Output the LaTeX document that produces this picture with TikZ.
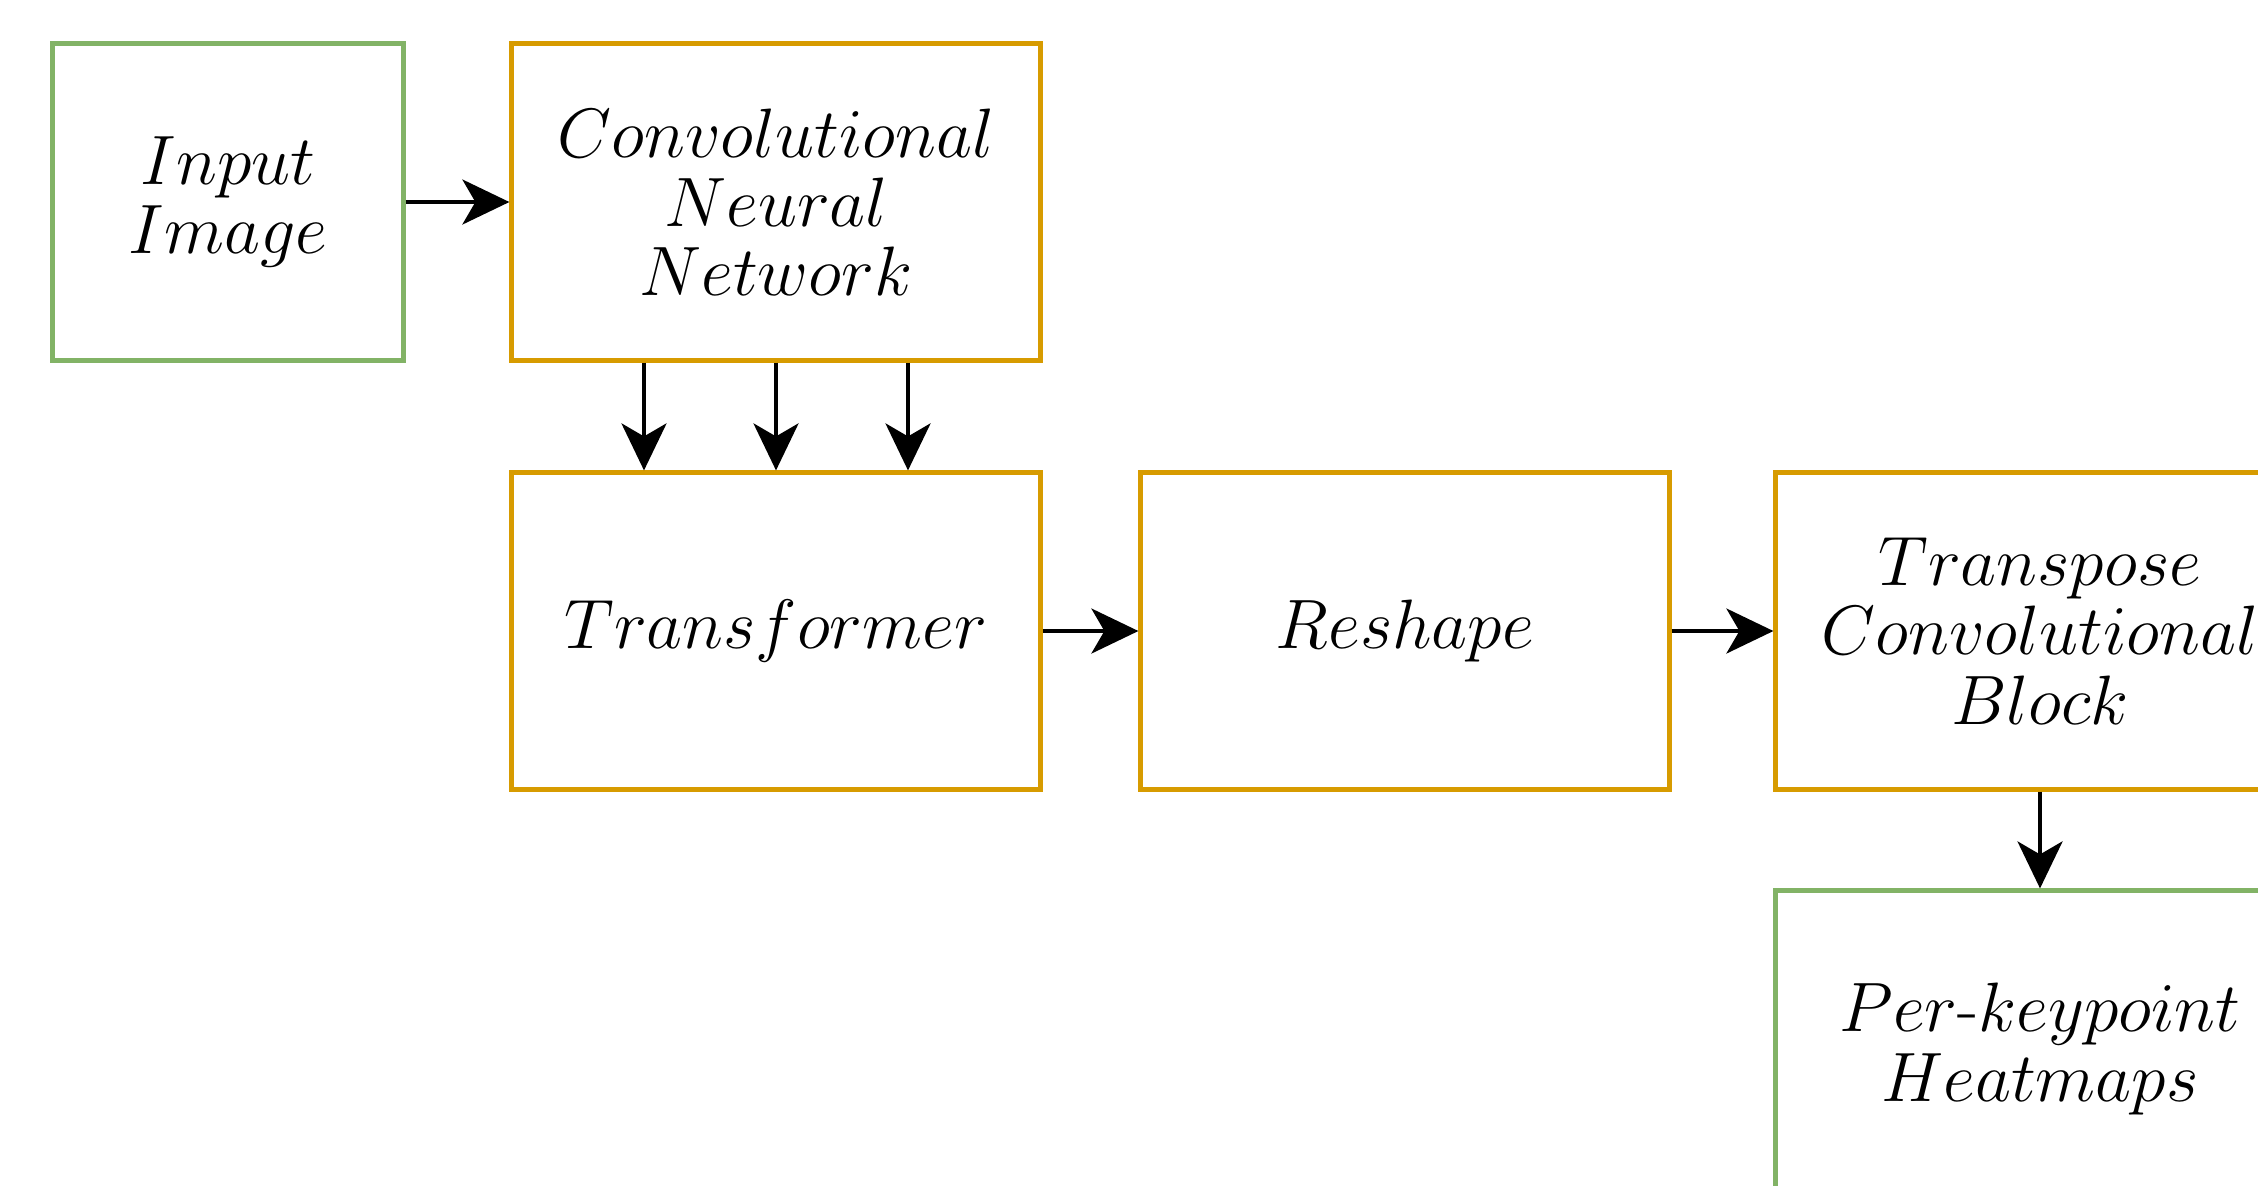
\RequirePackage{fix-cm}
\documentclass[tikz,border=0pt]{standalone}
\usepackage{amsmath,amssymb}
\usepackage{xcolor}
\usepackage{tikz}
\usetikzlibrary{arrows.meta}

\definecolor{drawgreen}{HTML}{82B366}
\definecolor{draworange}{HTML}{D79B00}

\begin{document}
\begin{tikzpicture}
		\tikzstyle{every node}=[font=\fontsize{19.9}{19.7}\selectfont]
		\tikzstyle{block}=[draw=draworange, line width=1.2pt, minimum width=5.29cm, minimum height=3.17cm, inner sep=0pt, align=center]
		\tikzstyle{ends}=[block, draw=drawgreen]
		\tikzstyle{flow}=[-{Stealth[length=0.47cm, width=0.45cm, inset=0.13cm]}, line width=1.1pt]

		\useasboundingbox (0,0) rectangle (22.58,-11.85);

		\node [ends, minimum width=3.51cm] (input) at (2.28,-2.02) {$Input$\\$Image$};
		\node [block] (cnn) at (7.76,-2.02) {$Convolutional$\\$Neural$\\$Network$};
		\node [block] (trans) at (7.76,-6.31) {$Transformer$};
		\node [block] (reshape) at (14.05,-6.31) {$Reshape$};
		\node [block] (tconv) at (20.40,-6.31) {$Transpose$\\$Convolutional$\\$Block$};
		\node [ends] (heat) at (20.40,-10.49) {$Per$-$keypoint$\\$Heatmaps$};

		\draw [flow] (input) -- (cnn);
		\draw [flow] ([xshift=-1.32cm]cnn.south) -- ([xshift=-1.32cm]trans.north);
		\draw [flow] (cnn) -- (trans);
		\draw [flow] ([xshift=1.32cm]cnn.south) -- ([xshift=1.32cm]trans.north);
		\draw [flow] (trans) -- (reshape);
		\draw [flow] (reshape) -- (tconv);
		\draw [flow] (tconv) -- (heat);

	\end{tikzpicture}
\end{document}
